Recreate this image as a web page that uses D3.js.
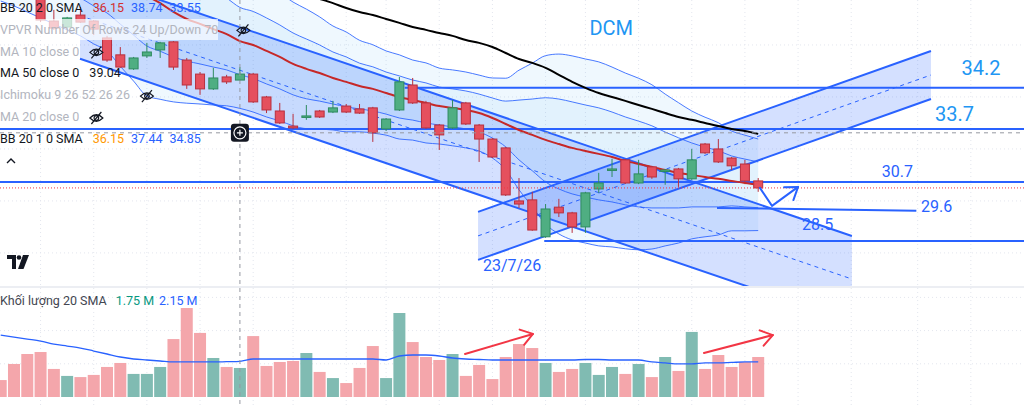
<!DOCTYPE html>
<html><head><meta charset="utf-8">
<script src="https://cdn.jsdelivr.net/npm/d3@7"></script>
<style>
html,body{margin:0;padding:0;background:#fff;overflow:hidden;}
svg{display:block;font-family:Roboto,"Noto Sans",sans-serif;}
</style></head><body>
<svg id="c" width="1024" height="406"></svg>
<script>
// ---------- data (bar index 0..57) ----------
const opens  = [40.04,39.46,38.88,37.92,36.92,36.69,37.15,36.92,36.27,35.62,35.08,35.58,35.81,36.12,35.42,34.88,34.31,34.77,34.65,34.88,34.00,33.46,32.88,33.23,33.46,33.42,33.65,33.54,33.58,32.77,33.50,34.46,33.77,32.92,32.81,33.77,32.92,32.38,32.04,30.00,30.04,28.62,29.76,29.54,29.00,30.46,31.19,31.58,30.69,31.31,31.15,31.23,30.85,32.19,32.00,31.65,31.42,30.77];
const highs  = [40.23,39.65,39.08,38.11,37.35,37.08,37.46,36.96,36.35,35.92,35.54,36.08,36.12,36.15,35.50,34.96,35.12,34.85,35.15,34.92,34.04,33.77,33.35,33.69,33.50,33.85,33.73,33.73,33.62,33.19,34.77,34.73,33.85,32.96,33.88,33.81,32.96,32.42,32.08,30.88,30.35,29.88,30.08,29.58,30.35,31.08,31.62,31.62,31.58,31.35,31.23,31.27,32.00,32.23,32.38,31.69,31.58,30.88];
const lows   = [39.08,38.50,37.92,36.88,36.58,36.65,36.85,36.38,35.35,35.12,35.04,35.50,35.50,35.04,34.31,34.08,34.27,34.50,34.62,33.77,33.38,32.96,32.77,33.12,33.19,33.38,33.38,33.35,32.27,32.69,33.46,33.73,32.77,31.96,32.77,32.92,31.50,31.65,30.19,29.73,28.85,28.58,29.38,28.77,28.77,30.31,30.92,30.65,30.65,30.85,30.62,30.54,30.81,31.81,31.46,31.19,30.73,30.35];
const closes = [39.27,38.69,38.11,36.96,36.65,37.04,36.88,36.61,35.42,35.15,35.50,35.73,36.08,35.15,34.46,34.31,34.73,34.58,34.88,33.81,33.50,33.00,32.81,33.27,33.23,33.58,33.42,33.38,32.62,33.15,34.58,33.77,32.81,32.54,33.58,32.96,32.38,31.69,30.23,29.88,28.88,29.69,29.54,29.00,30.31,30.69,31.23,30.69,31.04,30.92,31.19,30.85,31.58,31.85,31.50,31.35,30.77,30.50];
const volumes = [1.02,1.99,2.59,2.71,1.69,1.27,1.20,1.33,1.81,2.05,1.39,1.39,1.81,3.49,5.36,3.86,2.35,1.81,1.75,3.67,1.87,2.11,2.17,2.65,1.51,1.14,0.84,1.75,3.07,1.14,5.06,3.31,2.41,2.23,2.59,1.27,1.93,1.08,2.41,3.19,2.95,2.05,1.51,1.69,2.05,1.33,1.81,1.39,1.99,1.20,2.41,1.57,3.92,1.69,2.53,1.81,2.11,2.41];
const volSma = [3.73,3.61,3.49,3.37,3.19,3.07,2.95,2.77,2.59,2.41,2.29,2.23,2.17,2.11,2.11,2.11,2.11,2.13,2.15,2.29,2.29,2.29,2.29,2.29,2.29,2.29,2.29,2.29,2.29,2.23,2.47,2.53,2.53,2.47,2.35,2.29,2.26,2.23,2.23,2.23,2.23,2.23,2.23,2.23,2.26,2.26,2.23,2.23,2.23,2.11,2.05,1.99,1.99,2.05,2.05,2.08,2.11,2.11];
const bbBasis = [40.61,40.42,40.19,39.96,39.73,39.50,39.27,38.96,38.69,38.42,38.15,37.88,37.61,37.27,37.00,36.81,36.61,36.42,36.15,36.00,35.77,35.54,35.27,35.08,34.92,34.73,34.58,34.42,34.31,34.15,34.00,33.88,33.77,33.65,33.58,33.50,33.38,33.19,32.96,32.73,32.54,32.35,32.19,32.04,31.92,31.81,31.69,31.54,31.42,31.31,31.19,31.08,31.00,30.92,30.85,30.77,30.69,30.62];
const bbDev = [1.46,1.46,1.46,1.46,1.46,1.46,1.46,1.46,1.46,1.62,1.77,1.92,1.85,1.73,1.62,1.54,1.46,1.38,1.295,1.29,1.27,1.23,1.19,1.15,1.08,1.00,0.96,0.88,0.85,0.81,0.81,0.77,0.77,0.73,0.73,0.73,0.73,0.77,0.88,1.15,1.38,1.62,1.73,1.77,1.77,1.77,1.73,1.69,1.65,1.58,1.46,1.35,1.23,1.15,1.08,0.96,0.92,0.88];
const ma50 = [null,null,null,null,null,null,null,null,null,null,null,null,null,null,null,null,null,null,39.04,38.81,38.58,38.35,38.11,37.92,37.77,37.61,37.42,37.27,37.15,37.00,36.85,36.69,36.58,36.46,36.35,36.19,36.08,35.92,35.69,35.46,35.31,35.12,34.85,34.58,34.35,34.15,34.00,33.85,33.69,33.54,33.38,33.23,33.12,33.00,32.88,32.77,32.69,32.58];

// drawings (bar index, price)
const channelDown = [[5.97, 38.78], [64.05, 28.65]];
const channelDownWidth = 3.31;
const channelUp = [[35.92, 29.58], [70.0, 35.77]];
const channelUpWidth = 1.85;
const levelPrices = [34.35, 32.77, 30.73, 28.46];
const levelStart = [30.4, -1, -1, 40.9];
const slantLevel = [[53.9, 29.73], [68.9, 29.62]];
const priceArrow = [[57.13, 30.50], [58.04, 29.81], [60.0, 30.54]];
const volArrows = [[[34.94, 2.59], [40.05, 3.80]], [[52.92, 2.65], [58.1, 3.73]]];
const labelTexts = ['DCM', '34.2', '33.7', '30.7', '29.6', '28.5', '23/7/26'];
const labelAt = [[44.3, 36.58], [72.3, 35.04], [70.3, 33.27], [66.3, 31.08], [69.25, 29.73], [60.3, 29.04], [36.29, 27.46]];
const crosshair = [18, 32.62];
const priceGrid = [28, 30, 32, 34, 36];
const volGrid = [2, 4, 6];
const timeGrid = [3, 7, 11, 15, 19, 22, 26, 29, 33, 37, 41, 44, 48, 52, 56, 60, 64, 69, 73];

// ---------- scales ----------
const W = 1024, H = 406;
const svg = d3.select('#c');
const x = d3.scaleLinear().domain([0, 57]).range([0.7, 758.2]);
const y = d3.scaleLinear().domain([26.65, 37.73]).range([288, 0]);
const vy = d3.scaleLinear().domain([0, 6]).range([397, 397 - 6 * 16.6]);
const idx = d3.range(opens.length);

const defs = svg.append('defs');
defs.append('clipPath').attr('id', 'cp').append('rect').attr('x', 0).attr('y', 0).attr('width', W).attr('height', 286);
defs.append('clipPath').attr('id', 'cv').append('rect').attr('x', 0).attr('y', 288).attr('width', W).attr('height', H - 288);

svg.append('rect').attr('width', W).attr('height', H).attr('fill', '#fff');

// grid
const gGrid = svg.append('g');
timeGrid.forEach(t => gGrid.append('line').attr('x1', x(t)).attr('x2', x(t)).attr('y1', 0).attr('y2', H)
  .attr('stroke', '#e3e6ee').attr('stroke-dasharray', '1,3'));
priceGrid.forEach(p => gGrid.append('line').attr('x1', 0).attr('x2', W).attr('y1', y(p)).attr('y2', y(p))
  .attr('stroke', '#e3e6ee').attr('stroke-dasharray', '1,3'));
volGrid.forEach(v => gGrid.append('line').attr('x1', 0).attr('x2', W).attr('y1', vy(v)).attr('y2', vy(v))
  .attr('stroke', '#e3e6ee').attr('stroke-dasharray', '1,3'));

const gP = svg.append('g').attr('clip-path', 'url(#cp)');
const gV = svg.append('g').attr('clip-path', 'url(#cv)');

// Bollinger fills
const band = k => d3.area().curve(d3.curveMonotoneX).x(i => x(i))
  .y0(i => y(bbBasis[i] - k * bbDev[i])).y1(i => y(bbBasis[i] + k * bbDev[i]));
gP.append('path').datum(idx).attr('d', band(2)).attr('fill', 'rgba(33,150,243,0.07)');
gP.append('path').datum(idx).attr('d', band(1)).attr('fill', 'rgba(33,150,243,0.06)');

// channels
function channel(pts, width, fill) {
  const a0 = [x(pts[0][0]), y(pts[0][1])], a1 = [x(pts[1][0]), y(pts[1][1])];
  const b0 = [a0[0], y(pts[0][1] - width)], b1 = [a1[0], y(pts[1][1] - width)];
  const m0 = [a0[0], y(pts[0][1] - width / 2)], m1 = [a1[0], y(pts[1][1] - width / 2)];
  gP.append('path').attr('d', `M${a0}L${a1}L${b1}L${b0}Z`).attr('fill', fill);
  return () => {
    [[a0, a1], [b0, b1]].forEach(s => gP.append('line').attr('x1', s[0][0]).attr('y1', s[0][1])
      .attr('x2', s[1][0]).attr('y2', s[1][1]).attr('stroke', '#2962ff').attr('stroke-width', 2));
    gP.append('line').attr('x1', m0[0]).attr('y1', m0[1]).attr('x2', m1[0]).attr('y2', m1[1])
      .attr('stroke', '#2962ff').attr('stroke-width', 1).attr('stroke-dasharray', '4,4');
  };
}
const drawDown = channel(channelDown, channelDownWidth, 'rgba(41,98,255,0.2)');
const drawUp = channel(channelUp, channelUpWidth, 'rgba(41,98,255,0.2)');

// Bollinger lines
[2, 1, -1, -2].forEach(k => {
  gP.append('path').datum(idx).attr('fill', 'none').attr('stroke', '#2962ff').attr('stroke-width', 1).attr('opacity', 0.85)
    .attr('d', d3.line().curve(d3.curveMonotoneX).x(i => x(i)).y(i => y(bbBasis[i] + k * bbDev[i])));
});

drawDown(); drawUp();

// horizontal levels
levelPrices.forEach((p, j) => {
  gP.append('line').attr('x1', levelStart[j] < 0 ? 0 : x(levelStart[j])).attr('x2', W)
    .attr('y1', y(p)).attr('y2', y(p)).attr('stroke', '#2962ff').attr('stroke-width', 2);
});
gP.append('line').attr('x1', x(slantLevel[0][0])).attr('y1', y(slantLevel[0][1]))
  .attr('x2', x(slantLevel[1][0])).attr('y2', y(slantLevel[1][1])).attr('stroke', '#2962ff').attr('stroke-width', 2);

// basis & MA50
gP.append('path').datum(idx).attr('fill', 'none').attr('stroke', '#c62828').attr('stroke-width', 2)
  .attr('d', d3.line().curve(d3.curveMonotoneX).x(i => x(i)).y(i => y(bbBasis[i])));
gP.append('path').datum(idx).attr('fill', 'none').attr('stroke', '#000').attr('stroke-width', 2)
  .attr('d', d3.line().curve(d3.curveMonotoneX).defined(i => ma50[i] != null).x(i => x(i)).y(i => y(ma50[i])));

// candles
const up = i => closes[i] >= opens[i];
const cg = gP.append('g');
idx.forEach(i => {
  const col = up(i) ? '#2e8b5f' : '#b8303e';
  cg.append('line').attr('x1', x(i)).attr('x2', x(i)).attr('y1', y(highs[i])).attr('y2', y(lows[i]))
    .attr('stroke', col).attr('stroke-width', 1);
  const top = y(Math.max(opens[i], closes[i])), bot = y(Math.min(opens[i], closes[i]));
  cg.append('rect').attr('x', x(i) - 4.5).attr('y', top).attr('width', 9).attr('height', Math.max(1.5, bot - top))
    .attr('fill', up(i) ? '#4fae82' : '#e5505e').attr('stroke', col).attr('stroke-width', 1);
});

// price line
gP.append('line').attr('x1', 0).attr('x2', W).attr('y1', y(closes[closes.length - 1])).attr('y2', y(closes[closes.length - 1]))
  .attr('stroke', '#f23645').attr('stroke-width', 1).attr('stroke-dasharray', '1,2');

// arrows
function arrow(g, pts, color) {
  g.append('path').attr('d', d3.line()(pts)).attr('fill', 'none').attr('stroke', color).attr('stroke-width', 2)
    .attr('stroke-linejoin', 'round').attr('stroke-linecap', 'round');
  const [p1, p2] = pts.slice(-2);
  const ang = Math.atan2(p2[1] - p1[1], p2[0] - p1[0]);
  const L = 14, a = 0.6;
  const h1 = [p2[0] - L * Math.cos(ang - a), p2[1] - L * Math.sin(ang - a)];
  const h2 = [p2[0] - L * Math.cos(ang + a), p2[1] - L * Math.sin(ang + a)];
  g.append('path').attr('d', `M${h1}L${p2}L${h2}`).attr('fill', 'none').attr('stroke', color).attr('stroke-width', 2)
    .attr('stroke-linejoin', 'round').attr('stroke-linecap', 'round');
}
arrow(gP, priceArrow.map(d => [x(d[0]), y(d[1])]), '#2962ff');

// labels
labelTexts.forEach((t, j) => {
  const big = j < 3;
  gP.append('text').text(t).attr('x', x(labelAt[j][0])).attr('y', y(labelAt[j][1]))
    .attr('dominant-baseline', 'middle').attr('font-size', big ? 20 : 16)
    .attr('fill', big ? '#2196f3' : '#2962ff');
});

// volume
idx.forEach(i => {
  gV.append('rect').attr('x', x(i) - 6).attr('width', 12).attr('y', vy(volumes[i])).attr('height', vy(0) - vy(volumes[i]))
    .attr('fill', up(i) ? '#80bbb2' : '#f4a6ab');
});
gV.append('path').datum(idx).attr('fill', 'none').attr('stroke', '#2962ff').attr('stroke-width', 1.3)
  .attr('d', d3.line().curve(d3.curveMonotoneX).x(i => x(i)).y(i => vy(volSma[i])));
volArrows.forEach(a => arrow(gV, a.map(d => [x(d[0]), vy(d[1])]), '#f23645'));

// pane separator
svg.append('rect').attr('x', 0).attr('y', 286).attr('width', W).attr('height', 2).attr('fill', '#eceef3');

// crosshair
const cx = x(crosshair[0]), cy = y(crosshair[1]);
svg.append('line').attr('x1', cx).attr('x2', cx).attr('y1', 0).attr('y2', H).attr('stroke', '#9598a1').attr('stroke-dasharray', '4,4');
svg.append('line').attr('x1', 0).attr('x2', W).attr('y1', cy).attr('y2', cy).attr('stroke', '#9598a1').attr('stroke-dasharray', '4,4');

// legend
const LG = svg.append('g').attr('font-size', 12.5);
LG.append('rect').attr('x', 0).attr('y', 19).attr('width', 218).attr('height', 21).attr('fill', 'rgba(255,255,255,0.7)');
const rows = [
  ['BB 20 2 0 SMA', '#131722', [['36.15', '#d32f2f'], ['38.74', '#2962ff'], ['33.55', '#2962ff']], false],
  ['VPVR Number Of Rows 24 Up/Down 70', '#b2b5be', [], true],
  ['MA 10 close 0', '#b2b5be', [], true],
  ['MA 50 close 0', '#131722', [['39.04', '#131722']], false],
  ['Ichimoku 9 26 52 26 26', '#b2b5be', [], true],
  ['MA 20 close 0', '#b2b5be', [], true],
  ['BB 20 1 0 SMA', '#131722', [['36.15', '#ff9800'], ['37.44', '#2962ff'], ['34.85', '#2962ff']], false]
];
function eyeOff(x0, yc) {
  const e = LG.append('g').attr('transform', `translate(${x0},${yc - 6})`).attr('fill', 'none')
    .attr('stroke', '#131722').attr('stroke-width', 1.2);
  e.append('path').attr('d', 'M0.5,6 Q7,-0.5 13.5,6 Q7,12.5 0.5,6 Z');
  e.append('circle').attr('cx', 7).attr('cy', 6).attr('r', 2.3);
  e.append('line').attr('x1', 2).attr('y1', 12).attr('x2', 12).attr('y2', 0);
}
rows.forEach((r, k) => {
  const yc = 8.5 + 21.9 * k;
  const t = LG.append('text').text(r[0]).attr('x', 0).attr('y', yc).attr('dominant-baseline', 'middle').attr('fill', r[1]);
  let xx = t.node().getComputedTextLength() + 10;
  r[2].forEach(v => {
    const tv = LG.append('text').text(v[0]).attr('x', xx).attr('y', yc).attr('dominant-baseline', 'middle').attr('fill', v[1]);
    xx += tv.node().getComputedTextLength() + 7;
  });
  if (r[3]) eyeOff(xx + (k === 1 ? 8 : 0), yc);
});
// crosshair button
const btn = svg.append('g').attr('transform', `translate(${cx},${cy})`);
btn.append('rect').attr('x', -9).attr('y', -9).attr('width', 18).attr('height', 18).attr('rx', 3).attr('fill', '#131722');
btn.append('circle').attr('r', 6).attr('fill', 'none').attr('stroke', '#fff').attr('stroke-width', 1.2);
btn.append('path').attr('d', 'M-3,0H3M0,-3V3').attr('stroke', '#fff').attr('stroke-width', 1.2);
// collapse chevron
svg.append('path').attr('d', 'M7,163 L11,159 L15,163').attr('fill', 'none').attr('stroke', '#131722').attr('stroke-width', 1.4);
// TV logo
const tv = svg.append('g').attr('fill', '#131722');
tv.append('path').attr('d', 'M7,255H16V269H12V259H7Z');
tv.append('circle').attr('cx', 19).attr('cy', 257.5).attr('r', 2.3);
tv.append('path').attr('d', 'M23,255H29L23.5,269H18Z');
// volume legend
const vl = svg.append('g').attr('font-size', 12.5);
const vt = vl.append('text').text('Khối lượng 20 SMA').attr('x', 0).attr('y', 302).attr('dominant-baseline', 'middle').attr('fill', '#434651');
let vx = vt.node().getComputedTextLength() + 9;
[['1.75 M', '#089981'], ['2.15 M', '#2962ff']].forEach(v => {
  const tt = vl.append('text').text(v[0]).attr('x', vx).attr('y', 302).attr('dominant-baseline', 'middle').attr('fill', v[1]);
  vx += tt.node().getComputedTextLength() + 5;
});
</script>
</body></html>
